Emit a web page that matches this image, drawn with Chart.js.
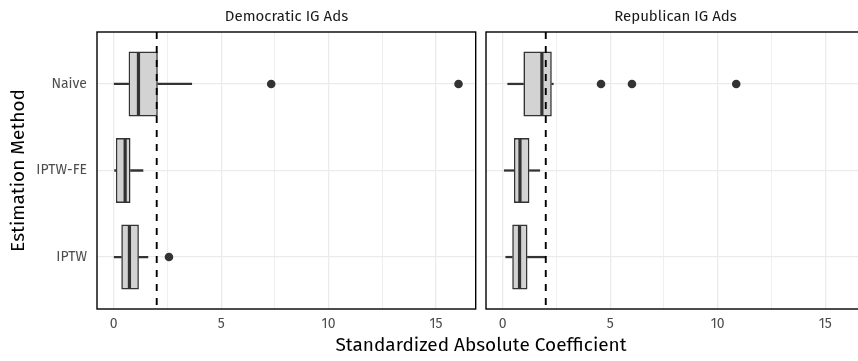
<!DOCTYPE html>
<html>
<head>
<meta charset="utf-8">
<script src="https://cdn.jsdelivr.net/npm/chart.js@4/dist/chart.umd.min.js"></script>
<style>
  html, body { margin: 0; padding: 0; background: #fff; }
  body { width: 858px; height: 361px; overflow: hidden; position: relative;
         font-family: "Fira Sans", "Open Sans", sans-serif; }
  canvas { position: absolute; top: 0; }
  #demCanvas { left: 0; }
  #repCanvas { left: 480px; }
  .strip { position: absolute; top: 5px; font-size: 15px; line-height: 22px; color: #1a1a1a; text-align: center; white-space: nowrap; }
  #xTitle { position: absolute; left: 97px; width: 768px; top: 332px; font-size: 19px; line-height: 26px; color: #000; text-align: center; white-space: nowrap; }
</style>
</head>
<body>
<canvas id="demCanvas" width="480" height="361"></canvas>
<canvas id="repCanvas" width="390" height="361"></canvas>
<div class="strip" style="left:97px;width:379px;">Democratic IG Ads</div>
<div class="strip" style="left:486px;width:379px;">Republican IG Ads</div>
<div id="xTitle">Standardized Absolute Coefficient</div>
<script>
// Estimation methods, top to bottom
const categories = ['Naive', 'IPTW-FE', 'IPTW'];
const panelTitles = ['Democratic IG Ads', 'Republican IG Ads'];
const xTickValues = [0, 5, 10, 15];
const referenceLine = 2;

// Democratic IG ads: box-plot summaries per method
const demLow    = [0.02, 0.04, 0.02];
const demQ1     = [0.69, 0.10, 0.35];
const demMedian = [1.15, 0.53, 0.73];
const demQ3     = [2.05, 0.78, 1.17];
const demHigh   = [3.63, 1.36, 1.59];
const demOutliers = [[7.33, 16.05], [], [2.57]];

// Republican IG ads: box-plot summaries per method
const repLow    = [0.23, 0.07, 0.14];
const repQ1     = [0.96, 0.52, 0.44];
const repMedian = [1.82, 0.80, 0.78];
const repQ3     = [2.28, 1.24, 1.15];
const repHigh   = [2.35, 1.72, 2.00];
const repOutliers = [[4.57, 6.01, 10.86], [], []];

const X_MIN = -0.78, X_MAX = 16.85;
const INK = '#333333';
const GRID = '#ebebeb';
const FONT = '"Fira Sans", "Open Sans", sans-serif';

// medians, reference line and panel frame drawn on top of the datasets
const overlayPlugin = {
  id: 'boxOverlay',
  afterDatasetsDraw(chart) {
    const { ctx, chartArea, scales } = chart;
    const xs = scales.x, ys = scales.y;
    const medians = chart.options.plugins.boxOverlay.medians;
    const boxMeta = chart.getDatasetMeta(0);
    ctx.save();
    ctx.beginPath();
    ctx.rect(chartArea.left, chartArea.top, chartArea.right - chartArea.left, chartArea.bottom - chartArea.top);
    ctx.clip();
    // medians
    ctx.strokeStyle = INK;
    ctx.lineWidth = 3.2;
    medians.forEach((m, i) => {
      const el = boxMeta.data[i];
      const half = el.height / 2;
      const px = xs.getPixelForValue(m);
      const py = ys.getPixelForValue(i + 1);
      ctx.beginPath();
      ctx.moveTo(px, py - half + 0.8);
      ctx.lineTo(px, py + half - 0.8);
      ctx.stroke();
    });
    // dashed reference line
    const rx = xs.getPixelForValue(referenceLine);
    ctx.strokeStyle = '#000';
    ctx.lineWidth = 1.9;
    ctx.setLineDash([7, 7]);
    ctx.beginPath();
    ctx.moveTo(rx, chartArea.top);
    ctx.lineTo(rx, chartArea.bottom);
    ctx.stroke();
    ctx.restore();
    // panel frame
    ctx.save();
    ctx.strokeStyle = '#000';
    ctx.lineWidth = 1.4;
    ctx.strokeRect(chartArea.left, chartArea.top, chartArea.right - chartArea.left, chartArea.bottom - chartArea.top);
    ctx.restore();
  }
};

function makePanel(canvasId, low, q1, med, q3, high, outliers, showY) {
  const boxData = categories.map((c, i) => ({ y: i + 1, x: [q1[i], q3[i]] }));
  const lowWhisker = categories.map((c, i) => ({ y: i + 1, x: [low[i], q1[i]] }));
  const highWhisker = categories.map((c, i) => ({ y: i + 1, x: [q3[i], high[i]] }));
  const outlierPts = [];
  outliers.forEach((arr, i) => arr.forEach(v => outlierPts.push({ x: v, y: i + 1 })));

  return new Chart(document.getElementById(canvasId), {
    type: 'bar',
    data: {
      datasets: [
        { type: 'bar', indexAxis: 'y', data: boxData, backgroundColor: '#d3d3d3',
          borderColor: INK, borderWidth: 1.6, borderSkipped: false,
          barPercentage: 0.75, categoryPercentage: 1, grouped: false, order: 1 },
        { type: 'bar', indexAxis: 'y', data: lowWhisker, backgroundColor: INK,
          barThickness: 1.6, grouped: false, order: 2 },
        { type: 'bar', indexAxis: 'y', data: highWhisker, backgroundColor: INK,
          barThickness: 1.6, grouped: false, order: 2 },
        { type: 'scatter', data: outlierPts, backgroundColor: INK, borderWidth: 0,
          pointRadius: 4.3, showLine: false, order: 0 }
      ]
    },
    options: {
      indexAxis: 'y',
      responsive: false,
      animation: false,
      events: [],
      layout: { padding: { top: 32, right: showY ? 4 : 5, bottom: 0, left: 0 } },
      plugins: {
        legend: { display: false },
        tooltip: { enabled: false },
        boxOverlay: { medians: med }
      },
      scales: {
        x: {
          type: 'linear', min: X_MIN, max: X_MAX, offset: false, grace: 0,
          afterBuildTicks: s => { s.ticks = [0, 2.5, 5, 7.5, 10, 12.5, 15].map(v => ({ value: v })); },
          ticks: {
            callback: v => (xTickValues.includes(v) ? String(v) : ''),
            color: '#4d4d4d', font: { family: FONT, size: 14 }, padding: 7, maxRotation: 0
          },
          grid: {
            offset: false,
            color: GRID,
            lineWidth: c => (c.tick && xTickValues.includes(c.tick.value) ? 1.3 : 0.8),
            drawTicks: false
          },
          border: { display: false },
          afterFit: s => { s.height = 52; }
        },
        y: {
          type: 'linear', min: 0.4, max: 3.6, reverse: true, offset: false, grace: 0,
          afterBuildTicks: s => { s.ticks = categories.map((c, i) => ({ value: i + 1 })); },
          ticks: {
            display: showY,
            callback: v => categories[v - 1],
            color: '#4d4d4d', font: { family: FONT, size: 14 }, padding: 10
          },
          grid: { offset: false, color: GRID, lineWidth: 1.3, drawTicks: false },
          border: { display: false },
          title: {
            display: showY, text: 'Estimation Method', color: '#000',
            font: { family: FONT, size: 19 }, padding: { top: 7, bottom: 0 }
          },
          afterFit: s => { s.width = showY ? 97 : 6; }
        }
      }
    },
    plugins: [overlayPlugin]
  });
}

makePanel('demCanvas', demLow, demQ1, demMedian, demQ3, demHigh, demOutliers, true);
makePanel('repCanvas', repLow, repQ1, repMedian, repQ3, repHigh, repOutliers, false);
</script>
</body>
</html>
